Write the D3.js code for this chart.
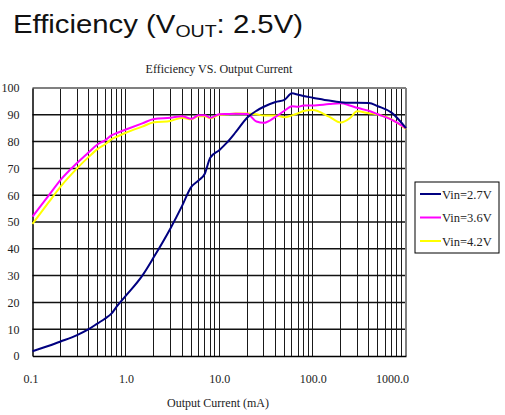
<!DOCTYPE html>
<html>
<head>
<meta charset="utf-8">
<script src="https://cdn.jsdelivr.net/npm/d3@7"></script>
<style>
  body { margin: 0; background: #fff; }
  svg text { font-family: "Liberation Serif", "DejaVu Serif", serif; fill: #222; }
  .title-main { font-family: "Liberation Sans", Arial, sans-serif; font-size: 25.5px; fill: #111; }
</style>
</head>
<body>
<script>
// Data
var current = [0.1, 0.15, 0.2, 0.3, 0.4, 0.5, 0.6, 0.7, 0.8, 1.0, 1.5, 2, 3, 4, 5, 6, 7, 8, 10, 12, 15, 20, 25, 30, 40, 50, 60, 70, 80, 100, 150, 200, 250, 300, 400, 500, 700, 1000];
var vin27 = [1.8, 3.8, 5.4, 7.8, 10.0, 12.2, 14.0, 15.8, 18.5, 22.5, 30, 37, 47.6, 56, 63, 65.5, 68, 74, 76.8, 79.5, 83.5, 89, 91.5, 93, 94.8, 95.6, 98, 97.5, 97, 96.4, 95.3, 94.7, 94.5, 94.5, 94.4, 93.2, 90.8, 85];
var vin36 = [52, 60, 65.7, 72, 76, 79, 80.5, 82.3, 83.2, 84.5, 86.8, 88.4, 88.9, 89.5, 88.5, 89.8, 89.8, 88.9, 90.2, 90.3, 90.4, 90.3, 87.5, 87.0, 89.2, 91.5, 93.2, 93, 93.5, 93.5, 94, 94.3, 93.5, 92.6, 91.5, 90.2, 88.2, 85];
var vin42 = [49.3, 57.5, 63.2, 70, 74.3, 77.3, 79, 80.8, 81.8, 83.3, 85.6, 87.2, 87.7, 88.9, 88.3, 89.5, 89.5, 88.7, 90, 90.2, 90.5, 90.5, 90.2, 89.7, 89.7, 89.1, 89.8, 90.6, 91.4, 91.8, 89.3, 87.1, 88.7, 91.3, 90.6, 90.1, 88.3, 84.7];
var seriesNames = ["Vin=2.7V", "Vin=3.6V", "Vin=4.2V"];
var seriesColors = ["#000080", "#ff00ff", "#ffff00"];
var xTicks = [0.1, 1, 10, 100, 1000];
var xTickLabels = ["0.1", "1.0", "10.0", "100.0", "1000.0"];
var yTicks = [0, 10, 20, 30, 40, 50, 60, 70, 80, 90, 100];

var svgWidth = 505;
var svgHeight = 415;
var margin = { top: 88, right: 99, bottom: 59, left: 32.5 };
var chartWidth = svgWidth - margin.left - margin.right;
var chartHeight = svgHeight - margin.top - margin.bottom;

var svg = d3.select("body").append("svg")
  .attr("width", svgWidth)
  .attr("height", svgHeight);

// page title with subscript (the original font is set wider)
var t = svg.append("text").attr("class", "title-main")
  .attr("transform", "translate(13, 33) scale(1.15, 1)");
t.append("tspan").text("Efficiency (V");
t.append("tspan").attr("font-size", 17).attr("dy", 4).text("OUT");
t.append("tspan").attr("dy", -4).text(": 2.5V)");

var chartGroup = svg.append("g")
  .attr("transform", `translate(${margin.left}, ${margin.top})`);

var xScale = d3.scaleLog().domain([0.1, 1000]).range([0, chartWidth]);
var yScale = d3.scaleLinear().domain([0, 100]).range([chartHeight, 0]);

// vertical grid at every log minor tick
var minor = xScale.ticks().filter(d => d > 0.1 && d < 1000);
chartGroup.append("g").selectAll("line")
  .data(minor).enter().append("line")
  .attr("x1", d => xScale(d)).attr("x2", d => xScale(d))
  .attr("y1", 0).attr("y2", chartHeight)
  .attr("stroke", "#1a1a1a").attr("stroke-width", 1)
  .attr("shape-rendering", "crispEdges");

// horizontal grid
chartGroup.append("g").selectAll("line")
  .data(yTicks.slice(1, -1)).enter().append("line")
  .attr("x1", 0).attr("x2", chartWidth)
  .attr("y1", d => yScale(d)).attr("y2", d => yScale(d))
  .attr("stroke", "#111").attr("stroke-width", 1.5);

// frame: top and right in grey
chartGroup.append("line").attr("x1", 0).attr("x2", chartWidth).attr("y1", 0).attr("y2", 0)
  .attr("stroke", "#808080").attr("stroke-width", 2);
chartGroup.append("line").attr("x1", chartWidth).attr("x2", chartWidth).attr("y1", 0).attr("y2", chartHeight)
  .attr("stroke", "#808080").attr("stroke-width", 2);

// axes
var bottomAxis = d3.axisBottom(xScale).tickValues(xTicks)
  .tickFormat((d, i) => xTickLabels[i]).tickSize(0).tickPadding(18);
var leftAxis = d3.axisLeft(yScale).tickValues(yTicks).tickSize(0).tickPadding(13);

var gx = chartGroup.append("g")
  .attr("transform", `translate(0, ${chartHeight})`)
  .call(bottomAxis);
gx.select(".domain").attr("stroke", "#000").attr("stroke-width", 1.5);
gx.selectAll("text").attr("font-size", 12).attr("font-family", "Liberation Serif")
  .attr("dx", (d, i) => i === xTicks.length - 1 ? -14 : (i === 0 ? -2 : 0));

var gy = chartGroup.append("g").call(leftAxis);
gy.select(".domain").attr("stroke", "#000").attr("stroke-width", 1.5);
gy.selectAll("text").attr("font-size", 12).attr("font-family", "Liberation Serif");

// lines
var allSeries = [vin27, vin36, vin42];
var drawLine = d3.line()
  .x((d, i) => xScale(current[i]))
  .y(d => yScale(d))
  .curve(d3.curveMonotoneX);

// draw yellow first, then magenta, then navy on top
[2, 1, 0].forEach(function(k) {
  chartGroup.append("path")
    .datum(allSeries[k])
    .attr("fill", "none")
    .attr("stroke", seriesColors[k])
    .attr("stroke-width", 2)
    .attr("d", drawLine);
});

// chart titles
svg.append("text")
  .attr("x", 219).attr("y", 73)
  .attr("text-anchor", "middle").attr("font-size", 12)
  .text("Efficiency VS. Output Current");

svg.append("text")
  .attr("x", 218).attr("y", 407)
  .attr("text-anchor", "middle").attr("font-size", 12)
  .text("Output Current (mA)");

// legend
var legend = svg.append("g").attr("transform", "translate(415, 182)");
legend.append("rect")
  .attr("width", 84).attr("height", 71)
  .attr("fill", "#fff").attr("stroke", "#000").attr("stroke-width", 1);
seriesNames.forEach(function(name, i) {
  var yy = 12 + i * 23.5;
  legend.append("line")
    .attr("x1", 5).attr("x2", 26).attr("y1", yy).attr("y2", yy)
    .attr("stroke", seriesColors[i]).attr("stroke-width", 2);
  legend.append("text")
    .attr("x", 27).attr("y", yy + 4.5)
    .attr("font-size", 12.5)
    .text(name);
});
</script>
</body>
</html>
